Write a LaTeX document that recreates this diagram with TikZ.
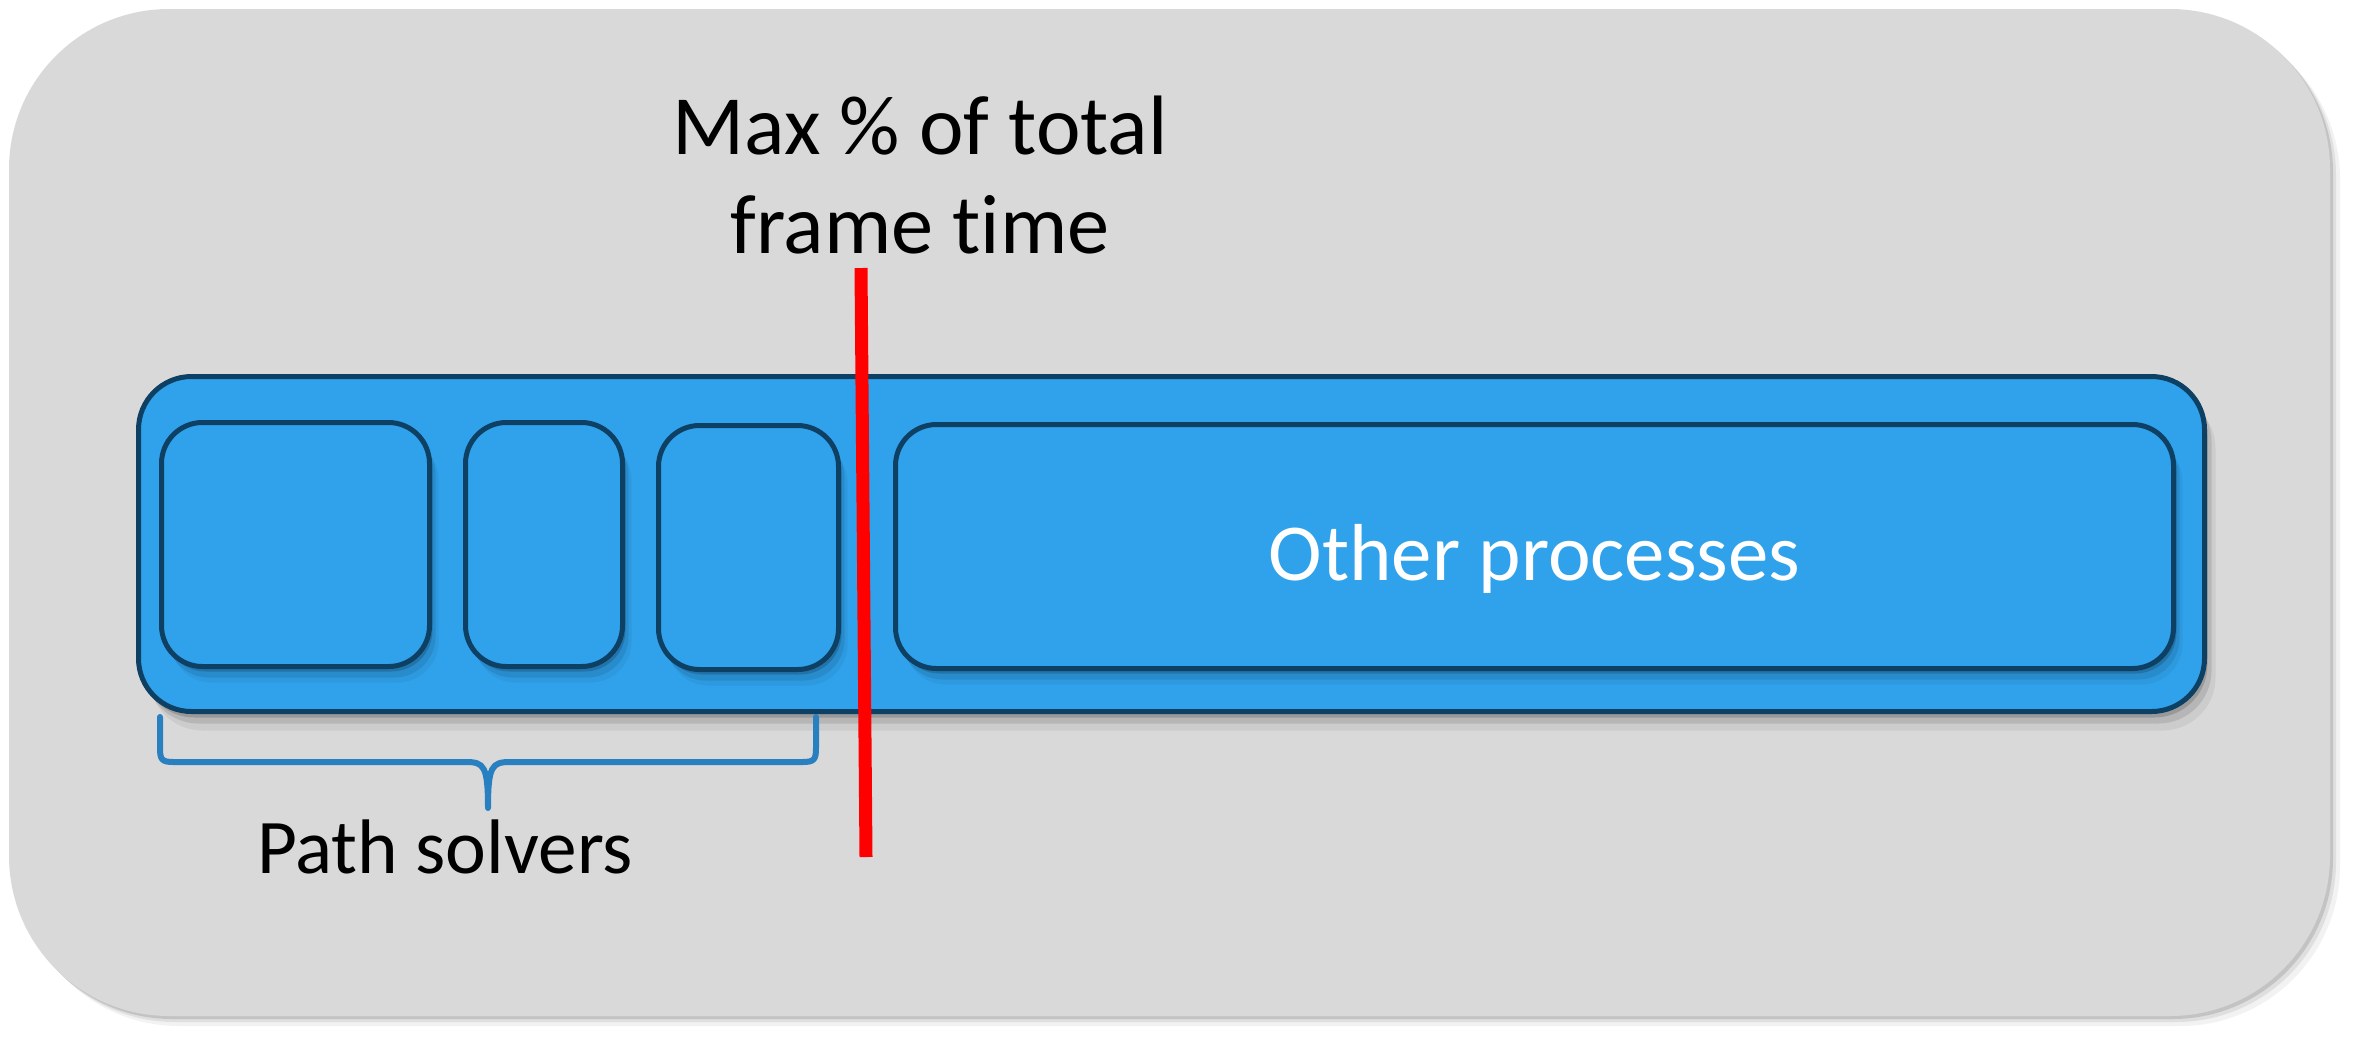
\documentclass[tikz,border=0pt]{standalone}
\usepackage{fontspec}
\setmainfont{Carlito}[Ligatures=NoCommon]
\usetikzlibrary{shadows}
\definecolor{bggray}{RGB}{217,217,217}
\definecolor{boxblue}{RGB}{48,162,236}
\definecolor{navy}{RGB}{14,64,100}
\definecolor{braceblue}{RGB}{40,128,192}
\begin{document}
\begin{tikzpicture}[x=0.1mm,y=-0.1mm,
  bgshadow/.style={
    general shadow={shadow xshift=0.3mm,shadow yshift=-0.3mm,fill=black,opacity=.12},
    general shadow={shadow xshift=0.6mm,shadow yshift=-0.6mm,fill=black,opacity=.08},
    general shadow={shadow xshift=1.0mm,shadow yshift=-1.0mm,fill=black,opacity=.05}},
  outshadow/.style={
    general shadow={shadow xshift=0.3mm,shadow yshift=-0.6mm,fill=black,opacity=.16},
    general shadow={shadow xshift=0.7mm,shadow yshift=-1.2mm,fill=black,opacity=.10},
    general shadow={shadow xshift=1.1mm,shadow yshift=-1.9mm,fill=black,opacity=.06}},
  inshadow/.style={
    general shadow={shadow xshift=0.3mm,shadow yshift=-0.5mm,fill=black,opacity=.16},
    general shadow={shadow xshift=0.6mm,shadow yshift=-1.1mm,fill=black,opacity=.09},
    general shadow={shadow xshift=0.9mm,shadow yshift=-1.6mm,fill=black,opacity=.05}},
  bgbox/.style={rectangle,rounded corners=16mm,fill=bggray,inner sep=0pt,bgshadow},
  outbox/.style={rectangle,rounded corners=5.3mm,fill=boxblue,draw=navy,line width=0.5mm,inner sep=0pt,outshadow},
  inbox/.style={rectangle,rounded corners=4.1mm,fill=boxblue,draw=navy,line width=0.5mm,inner sep=0pt,inshadow,minimum height=24.4mm},
  lbl/.style={font=\fontsize{24pt}{27.9pt}\selectfont,text=black,inner sep=0pt},
  redline/.style={draw=red,line width=1.3mm},
  bracestyle/.style={draw=braceblue,line width=0.6mm,line cap=round,line join=round}
]
\useasboundingbox (0,0) rectangle (2359,1046);
\node[bgbox,minimum width=232.1mm,minimum height=100.7mm] (bg) at (1169.5,512.5) {};
\node[outbox,minimum width=206.6mm,minimum height=33.5mm] (outer) at (1171.5,544) {};
\node[inbox,minimum width=26.8mm] (b1) at (295.5,544.5) {};
\node[inbox,minimum width=15.7mm] (b2) at (544,544.5) {};
\node[inbox,minimum width=18.0mm] (b3) at (748.5,547.5) {};
\node[inbox,minimum width=127.8mm,text=white,font=\fontsize{23pt}{27pt}\selectfont,text height=19.4pt,text depth=0pt] (b4) at (1534.5,546.5) {Other processes};
\coordinate (rtop) at (861,268);
\coordinate (rbot) at (866,857);
\draw[redline] (rtop) -- (rbot);
\node[lbl,anchor=base,align=center] (maxt) at (920,253) {Max \% of total\\frame time};
\coordinate (bl) at (160,717);
\coordinate (br) at (816,717);
\coordinate (tip) at (488,808);
\draw[bracestyle] (bl) -- (160,748) .. controls (160,760) and (162,762) .. (174,762) -- (466,762) .. controls (484,762) and (488,766) .. (tip) .. controls (488,766) and (492,762) .. (510,762) -- (802,762) .. controls (814,762) and (816,760) .. (816,748) -- (br);
\node[lbl,anchor=base,font=\fontsize{22pt}{26pt}\selectfont] (ps) at (445,873) {Path solvers};
\end{tikzpicture}
\end{document}
